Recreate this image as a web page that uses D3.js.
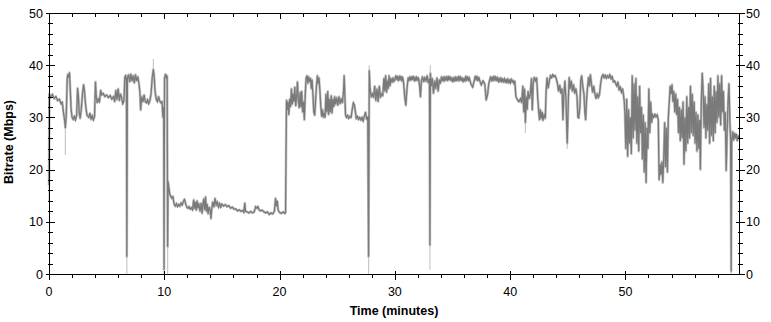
<!DOCTYPE html>
<html><head><meta charset="utf-8">
<script src="https://cdn.jsdelivr.net/npm/d3@7"></script>
<style>body{margin:0;background:#fff}svg{display:block}text{font-family:"Liberation Sans",Arial,sans-serif}</style>
</head><body>
<svg id="chart" width="771" height="322"></svg>
<script>
// ---- data (minutes, Mbps) ----
const samples = [
[0,17],[0.03,34.5],[0.15,33.8],[0.3,34.4],[0.45,33.6],[0.6,34.0],[0.75,33.2],[0.9,33.5],[1.05,32.6],[1.15,32.9],[1.25,31.0],[1.35,29.5],[1.42,28.0],[1.5,30.5],[1.58,37.5],[1.65,38.3],[1.72,37.6],[1.78,38.6],[1.85,35.0],[1.92,31.5],[2.0,30.0],[2.1,29.6],[2.2,30.2],[2.3,29.5],[2.4,30.4],[2.48,35.6],[2.55,34.0],[2.62,31.0],[2.7,29.8],[2.8,31.5],[2.9,34.5],[3.0,36.3],[3.08,35.0],[3.15,33.0],[3.22,31.5],[3.3,30.4],[3.45,30.0],[3.55,30.8],[3.65,29.6],[3.75,30.3],[3.85,29.5],[3.95,30.2],[4.03,36.8],[4.1,34.0],[4.18,32.8],[4.28,33.5],[4.38,33.0],[4.48,35.2],[4.58,34.3],[4.7,34.6],[4.85,34.0],[5.0,34.3],[5.15,33.8],[5.3,34.2],[5.45,33.5],[5.6,34.0],[5.7,33.0],[5.8,35.2],[5.9,33.4],[6.0,35.5],[6.1,33.2],[6.2,34.5],[6.3,33.8],[6.4,32.6],[6.5,33.2],[6.58,37.8],[6.65,38.0],[6.72,37.0],[6.75,3.3],[6.8,37.5],[6.9,38.2],[7.0,36.8],[7.1,38.3],[7.2,37.0],[7.3,38.0],[7.4,36.6],[7.5,38.2],[7.6,37.0],[7.7,37.8],[7.8,36.5],[7.88,35.0],[7.95,31.4],[8.05,34.0],[8.15,33.0],[8.25,34.3],[8.35,33.0],[8.45,32.8],[8.55,33.4],[8.65,32.6],[8.75,33.2],[8.85,34.5],[8.95,37.5],[9.05,39.2],[9.12,38.0],[9.2,35.0],[9.3,33.5],[9.4,33.0],[9.5,34.0],[9.6,33.2],[9.7,32.8],[9.8,33.0],[9.88,30.0],[9.95,32.0],[9.98,0.8],[10.02,37.5],[10.1,38.3],[10.18,37.6],[10.25,38.0],[10.29,5.2],[10.33,17.7],[10.4,16.5],[10.48,15.2],[10.55,15.0],[10.65,14.5],[10.75,14.8],[10.85,13.4],[10.95,13.0],[11.05,13.5],[11.15,12.9],[11.25,13.3],[11.35,13.0],[11.45,13.6],[11.55,13.2],[11.65,13.9],[11.75,14.3],[11.85,13.5],[11.95,12.8],[12.05,12.6],[12.15,12.9],[12.25,12.4],[12.35,12.7],[12.45,12.3],[12.55,14.2],[12.62,12.5],[12.7,13.8],[12.78,12.2],[12.85,14.0],[12.92,12.6],[13.0,13.5],[13.1,12.0],[13.2,13.6],[13.28,11.6],[13.35,13.2],[13.42,14.4],[13.5,12.3],[13.58,14.8],[13.65,12.0],[13.72,13.4],[13.8,11.5],[13.9,12.8],[14.0,12.0],[14.05,10.6],[14.12,12.6],[14.2,13.8],[14.3,12.8],[14.4,14.5],[14.5,13.2],[14.6,13.8],[14.7,12.8],[14.8,13.5],[14.9,12.8],[15.0,13.4],[15.15,13.0],[15.3,13.3],[15.45,12.9],[15.6,13.1],[15.75,12.6],[15.9,12.8],[16.05,12.4],[16.2,12.5],[16.35,12.1],[16.5,12.3],[16.65,12.0],[16.8,12.2],[16.9,11.8],[16.98,13.6],[17.05,12.0],[17.2,11.9],[17.35,11.7],[17.5,12.0],[17.65,11.7],[17.8,11.9],[17.92,12.9],[18.02,12.6],[18.12,12.9],[18.22,12.3],[18.35,12.1],[18.5,12.2],[18.65,11.9],[18.8,11.7],[18.95,11.9],[19.1,11.4],[19.25,11.7],[19.4,11.5],[19.55,12.0],[19.65,14.5],[19.72,13.0],[19.8,14.0],[19.88,12.2],[20.0,11.8],[20.15,11.6],[20.3,11.9],[20.45,11.6],[20.52,11.8],[20.56,23.0],[20.6,33.3],
[20.65,31.5],[20.72,33.0],[20.8,30.5],[20.88,33.5],[20.95,32.0],[21.03,35.5],[21.1,32.5],[21.18,34.5],[21.25,33.0],[21.32,35.8],[21.4,32.2],[21.48,34.0],[21.55,36.8],[21.62,33.5],[21.7,31.8],[21.78,34.8],[21.85,32.0],[21.92,35.0],[22.0,31.0],[22.08,33.0],[22.15,29.5],[22.22,34.0],[22.3,37.5],[22.38,38.0],[22.45,36.5],[22.52,37.8],[22.6,36.8],[22.68,37.5],[22.75,35.5],[22.82,37.2],[22.9,34.0],[22.97,31.0],[23.05,30.4],[23.12,33.0],[23.2,36.0],[23.28,38.0],[23.35,36.5],[23.42,37.6],[23.5,35.0],[23.58,32.0],[23.65,30.2],[23.72,31.5],[23.8,30.0],[23.88,30.8],[23.95,30.0],[24.02,34.5],[24.1,31.0],[24.18,35.0],[24.25,30.5],[24.32,33.5],[24.4,31.0],[24.48,34.2],[24.55,30.8],[24.62,33.5],[24.7,32.0],[24.78,34.0],[24.85,32.5],[24.95,33.8],[25.05,32.3],[25.15,34.0],[25.25,32.6],[25.35,33.6],[25.45,32.8],[25.55,35.0],[25.6,38.0],[25.65,35.0],[25.72,30.5],[25.8,30.0],[25.9,30.4],[26.0,29.8],[26.1,30.2],[26.2,30.0],[26.3,31.5],[26.4,32.8],[26.5,32.3],[26.58,31.0],[26.65,29.8],[26.75,30.2],[26.85,29.6],[26.95,30.0],[27.05,29.5],[27.15,30.0],[27.25,29.3],[27.35,30.2],[27.45,31.0],[27.55,29.7],[27.65,30.0],[27.72,3.3],[27.78,39.0],[27.85,35.5],[27.95,34.0],[28.05,34.5],[28.15,33.8],[28.25,36.0],[28.35,33.2],[28.45,35.5],[28.55,33.0],[28.65,36.0],[28.75,33.8],[28.85,34.5],[28.95,34.2],[29.05,37.5],[29.12,35.0],[29.2,38.0],[29.28,34.8],[29.35,37.0],[29.42,35.5],[29.5,38.0],[29.58,36.0],[29.65,37.5],[29.75,36.8],
[29.85,37.6],[29.92,36.9],[30.0,37.2],[30.08,38.0],[30.15,37.4],[30.22,37.9],[30.3,37.0],[30.38,37.8],[30.45,37.3],[30.52,37.9],[30.6,37.1],[30.68,37.6],[30.75,36.8],[30.85,34.0],[30.95,32.3],[31.05,35.5],[31.15,37.6],[31.22,37.0],[31.3,37.8],[31.38,37.1],[31.45,37.8],[31.52,37.2],[31.6,37.9],[31.68,37.1],[31.75,37.6],[31.82,37.0],[31.9,37.7],[31.98,37.2],[32.05,37.5],[32.15,36.0],[32.22,33.9],[32.3,37.0],[32.4,37.8],[32.5,36.8],[32.6,37.6],[32.7,37.0],[32.8,38.0],[32.9,36.6],[33.0,37.4],[33.04,5.5],[33.08,38.5],[33.15,36.0],[33.25,37.5],[33.35,34.6],[33.45,37.0],[33.55,35.5],[33.65,37.6],[33.75,35.0],[33.85,37.2],[33.95,36.5],[34.05,37.8],[34.12,37.0],[34.2,37.6],[34.28,36.9],[34.35,37.8],[34.42,37.1],[34.5,37.7],[34.58,37.0],[34.65,37.9],[34.72,37.2],[34.8,37.8],[34.88,37.0],[34.95,37.6],[35.02,36.8],[35.1,37.5],[35.18,36.9],[35.25,37.8],[35.32,37.0],[35.4,37.6],[35.48,37.1],[35.55,37.9],[35.62,37.2],[35.7,37.7],[35.78,37.0],[35.85,37.6],[35.92,36.9],[36.0,37.4],[36.08,37.0],[36.15,37.9],[36.22,37.2],[36.3,37.7],[36.38,37.0],[36.45,37.6],[36.6,36.4],[36.75,35.8],[36.9,37.2],[36.98,37.9],[37.05,37.3],[37.12,37.8],[37.2,37.0],[37.28,37.7],[37.35,37.1],[37.5,36.2],[37.65,37.0],[37.8,36.4],[37.92,33.3],[38.05,34.5],[38.15,36.5],[38.3,37.8],[38.38,37.1],[38.45,37.6],[38.52,37.0],[38.6,37.9],[38.68,37.2],[38.75,37.7],[38.82,37.0],[38.9,37.6],[38.98,36.9],[39.05,37.4],[39.12,36.8],[39.2,37.6],[39.28,36.9],[39.35,37.3],[39.42,36.7],[39.5,37.4],[39.58,36.8],[39.65,37.2],[39.72,36.6],[39.8,37.3],[39.88,36.7],[39.95,37.1],[40.02,36.6],[40.1,37.4],[40.18,36.8],[40.25,37.0],[40.32,36.5],[40.4,37.0],[40.5,34.0],[40.6,33.5],[40.75,33.0],[40.9,33.6],[41.0,32.8],[41.1,36.0],[41.18,31.0],[41.25,35.5],[41.32,29.0],[41.4,34.0],[41.48,31.5],[41.55,35.0],[41.65,33.6],[41.75,34.5],[41.85,37.5],[41.92,31.4],[42.0,36.5],[42.1,37.7],[42.2,37.0],[42.3,37.6],[42.4,33.5],[42.48,31.0],[42.55,29.5],[42.62,31.5],[42.7,29.8],[42.78,31.0],[42.85,29.4],[42.95,30.6],[43.05,29.8],[43.12,35.0],[43.2,37.6],[43.3,35.6],[43.4,37.0],[43.5,38.0],[43.6,37.6],[43.7,38.2],[43.8,37.8],[43.9,38.0],[44.0,37.4],[44.1,36.5],[44.2,35.0],[44.3,36.2],[44.4,34.6],[44.5,35.5],[44.58,29.5],[44.65,34.0],[44.75,37.0],
[44.85,33.0],[44.95,25.0],[45.05,33.5],[45.12,37.7],[45.2,35.5],[45.3,37.0],[45.4,35.0],[45.5,36.3],[45.6,34.6],[45.7,35.5],[45.8,34.0],[45.88,30.0],[45.95,29.9],[46.05,32.0],[46.12,37.0],[46.2,38.0],[46.3,36.0],[46.4,34.5],[46.48,31.0],[46.55,29.5],[46.62,33.0],[46.7,35.5],[46.8,37.7],[46.88,36.0],[46.96,38.2],[47.05,36.5],[47.15,34.8],[47.25,36.0],[47.35,34.5],[47.45,33.6],[47.55,34.6],[47.65,33.8],[47.75,34.4],[47.85,36.5],[47.95,37.8],[48.05,38.2],[48.15,37.6],[48.25,38.1],[48.35,37.5],[48.45,38.0],[48.55,37.6],[48.65,38.2],[48.75,37.4],[48.85,37.8],[48.95,36.8],[49.05,37.0],[49.15,36.5],[49.25,36.0],[49.35,36.8],[49.45,35.2],[49.55,35.8],[49.65,34.8],[49.75,35.5],[49.82,34.5],[49.9,33.0],
[49.95,31.0],[50.03,24.0],[50.11,33.5],[50.19,22.5],[50.27,31.5],[50.35,25.0],[50.43,30.0],[50.51,23.0],[50.59,38.0],[50.67,26.0],[50.75,36.5],[50.83,27.5],[50.91,37.5],[50.99,25.0],[51.07,34.0],[51.15,23.5],[51.23,36.0],[51.31,27.0],[51.39,32.0],[51.47,22.0],[51.55,30.5],[51.63,19.5],[51.71,29.0],[51.79,17.5],[51.87,28.0],[51.95,24.0],[52.03,35.5],[52.11,27.0],[52.19,33.0],[52.27,29.0],[52.35,30.5],[52.45,30.0],[52.55,30.6],[52.65,30.1],[52.75,30.5],[52.85,29.5],[52.92,18.0],[53.0,21.0],[53.08,19.0],[53.16,21.5],[53.24,17.5],[53.32,22.0],[53.4,29.0],[53.48,20.5],[53.56,28.0],[53.64,19.5],[53.72,30.0],[53.8,33.0],[53.88,36.0],[53.96,34.5],[54.04,36.3],[54.12,33.0],[54.2,35.0],[54.28,31.0],[54.36,34.5],[54.44,30.5],[54.52,33.5],[54.6,27.0],[54.68,32.0],[54.76,25.5],[54.84,31.5],[54.92,26.0],[55.0,33.0],[55.08,21.0],[55.16,30.0],[55.24,23.5],[55.32,34.0],[55.4,25.0],[55.48,32.0],[55.56,26.0],[55.64,36.0],[55.72,27.0],[55.8,34.5],[55.88,26.5],[55.96,33.0],[56.04,25.0],[56.12,31.0],[56.2,23.5],[56.28,30.5],[56.36,24.0],[56.44,29.5],[56.5,20.0],[56.58,33.0],[56.66,38.5],[56.74,35.0],[56.82,28.0],[56.9,34.0],[56.98,26.0],[57.06,32.5],[57.14,27.5],[57.22,36.5],[57.3,25.0],[57.38,37.5],[57.46,26.5],[57.54,34.0],[57.62,25.5],[57.7,36.0],[57.78,27.0],[57.86,35.0],[57.94,29.0],[58.02,38.0],[58.1,30.0],[58.18,36.5],[58.26,28.5],[58.34,38.0],[58.42,31.0],[58.5,35.0],[58.58,27.5],[58.66,31.0],[58.74,19.8],[58.82,27.0],[58.9,33.0],[58.98,36.5],[59.06,29.0],[59.12,26.0],[59.17,0.5],[59.22,25.5],[59.3,27.3],[59.38,25.6],[59.46,27.0],[59.54,26.0],[59.62,26.8],[59.7,25.5],[59.78,26.5],[59.85,26.0]
];
// light-gray extremes beyond the plotted samples: [minute, from, to]
const spikes = [[0,17,14],[1.42,28,22.8],[6.75,3.3,0],[9.05,39.2,41.2],[9.98,0.8,0],[10.29,5.2,0],[27.72,3.3,0],[27.78,39,40],[33.04,5.5,0.8],[33.08,38.5,40],[41.32,29,27],[44.95,25,24],[59.17,0.5,0]];
const xMajor = [0,10,20,30,40,50];
const yMajor = [0,10,20,30,40,50];
const xLabel = "Time (minutes)";
const yLabel = "Bitrate (Mbps)";

const svg = d3.select("#chart");
const x = d3.scaleLinear().domain([0,59.85]).range([49,739]);
const y = d3.scaleLinear().domain([0,50]).range([274,13]);
const px = v => Math.round(x(v)) + 0.5;
const py = v => Math.round(y(v)) + 0.5;

// data
const line = d3.line().x(d => x(d[0])).y(d => y(d[1]));
const g = svg.append("g");
g.selectAll("line.spk").data(spikes).join("line")
  .attr("x1", d => x(d[0])).attr("x2", d => x(d[0]))
  .attr("y1", d => y(d[1])).attr("y2", d => y(d[2]))
  .attr("stroke", "#c8c8c8").attr("stroke-width", 1.2);
g.append("path").datum(samples).attr("d", line)
  .attr("fill", "none").attr("stroke", "#c6c6c6").attr("stroke-width", 2.6).attr("stroke-linejoin","round");
g.append("path").datum(samples).attr("d", line)
  .attr("fill", "none").attr("stroke", "#7a7a7a").attr("stroke-width", 1.3);

// axes frame
const ax = svg.append("g").attr("stroke", "#000").attr("stroke-width", 1).attr("shape-rendering","crispEdges");
const L = px(0), R = px(59.85), T = py(50), B = py(0);
ax.append("line").attr("x1", L).attr("x2", L).attr("y1", T).attr("y2", B);
ax.append("line").attr("x1", R).attr("x2", R).attr("y1", T).attr("y2", B);
ax.append("line").attr("x1", L).attr("x2", R).attr("y1", T).attr("y2", T);
ax.append("line").attr("x1", L).attr("x2", R+1).attr("y1", B).attr("y2", B);

const xMinor = d3.range(0, 59.85, 2).filter(v => v % 10 !== 0);
const yMinor = d3.range(0, 50, 2).filter(v => v % 10 !== 0);
// bottom ticks
xMajor.forEach(v => ax.append("line").attr("x1", px(v)).attr("x2", px(v)).attr("y1", B-4).attr("y2", B+5));
xMinor.forEach(v => ax.append("line").attr("x1", px(v)).attr("x2", px(v)).attr("y1", B).attr("y2", B+3));
// top ticks (inside)
xMajor.slice(1).forEach(v => ax.append("line").attr("x1", px(v)).attr("x2", px(v)).attr("y1", T).attr("y2", T+5));
xMinor.forEach(v => ax.append("line").attr("x1", px(v)).attr("x2", px(v)).attr("y1", T).attr("y2", T+3));
// left & right ticks
[L, R].forEach(X => {
  yMajor.forEach(v => ax.append("line").attr("x1", X-4).attr("x2", X+5).attr("y1", py(v)).attr("y2", py(v)));
  yMinor.forEach(v => ax.append("line").attr("x1", X-2).attr("x2", X+3).attr("y1", py(v)).attr("y2", py(v)));
});

// labels
const lab = svg.append("g").attr("font-size", "12.5px").attr("fill", "#000");
xMajor.forEach(v => lab.append("text").attr("x", x(v)).attr("y", 296).attr("text-anchor", "middle").text(v));
yMajor.forEach(v => {
  lab.append("text").attr("x", 43).attr("y", y(v)).attr("dy", "0.36em").attr("text-anchor", "end").text(v);
  lab.append("text").attr("x", 746).attr("y", y(v)).attr("dy", "0.36em").attr("text-anchor", "start").text(v);
});
svg.append("text").attr("x", 394).attr("y", 315).attr("text-anchor", "middle")
  .attr("font-size", "12.5px").attr("font-weight", "bold").text(xLabel);
svg.append("text").attr("transform", "translate(13,142) rotate(-90)").attr("text-anchor", "middle")
  .attr("font-size", "12.5px").attr("font-weight", "bold").text(yLabel);
</script>
</body></html>
